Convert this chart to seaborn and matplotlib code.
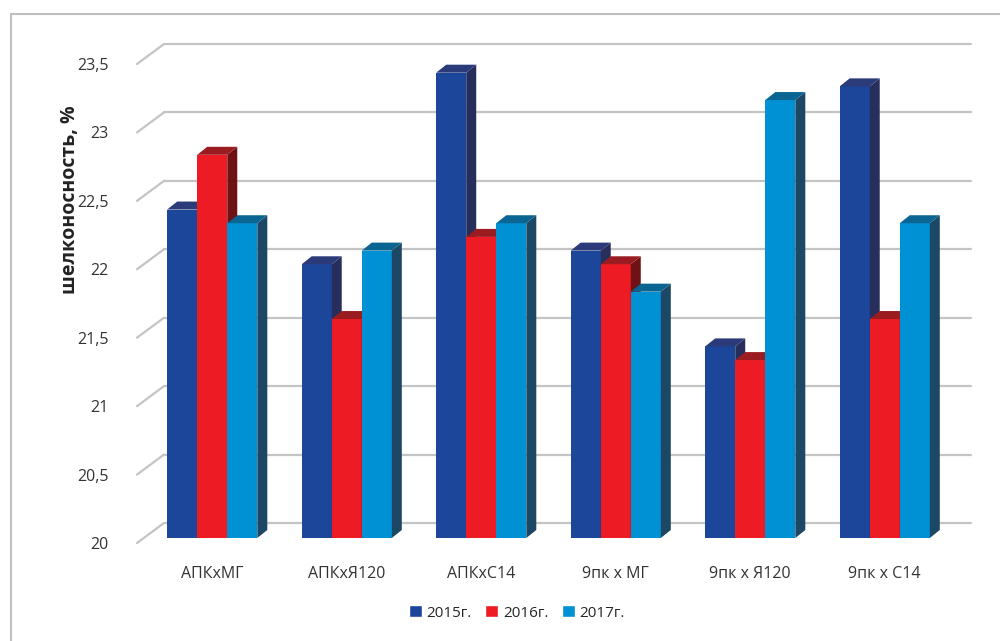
import matplotlib
matplotlib.use("Agg")
import matplotlib.pyplot as plt
from matplotlib.patches import Polygon, Rectangle
from matplotlib.transforms import ScaledTranslation
import pandas as pd
import seaborn as sns

categories = ["АПКхМГ", "АПКхЯ120", "АПКхС14", "9пк х МГ", "9пк х Я120", "9пк х С14"]
years = ["2015г.", "2016г.", "2017г."]
values_2015 = [22.4, 22.0, 23.4, 22.1, 21.4, 23.3]
values_2016 = [22.8, 21.6, 22.2, 22.0, 21.3, 21.6]
values_2017 = [22.3, 22.1, 22.3, 21.8, 23.2, 22.3]
y_ticks = [20, 20.5, 21, 21.5, 22, 22.5, 23, 23.5]
y_label = "шелконосность, %"

front_colors = ["#1C469A", "#ED1C24", "#0091D5"]
side_colors = ["#272E5C", "#6E1215", "#1C4866"]
top_colors = ["#2B3A78", "#9A1C20", "#0A6592"]

df = pd.DataFrame({
    "Категория": categories * 3,
    "Год": [years[0]] * 6 + [years[1]] * 6 + [years[2]] * 6,
    "Значение": values_2015 + values_2016 + values_2017,
})

sns.set_style("white")
plt.rcParams["font.family"] = ["Open Sans", "DejaVu Sans"]

W, H = 1000, 641
fig = plt.figure(figsize=(10, 6.41), dpi=100)
ax_l, ax_r, ax_b, ax_t = 145, 952, 538, 59
ax = fig.add_axes([ax_l / W, (H - ax_b) / H, (ax_r - ax_l) / W, (ax_b - ax_t) / H])

sns.barplot(data=df, x="Категория", y="Значение", hue="Год",
            palette=dict(zip(years, front_colors)), width=0.67,
            saturation=1, ax=ax)

y_min, y_max = 20, 23.5
ax.set_ylim(y_min, y_max)
ax.set_xlim(-0.5, 5.5)

# data units per pixel
sx = 6.0 / (ax_r - ax_l)
sy = (y_max - y_min) / (ax_b - ax_t)

# gridlines: slanted left edge + back wall line
grid_c = "#C4C4C4"
fdx, fdy = -8, -5      # front edge offset (px, up positive)
bdx, bdy = 19, 15      # back wall offset
for v in y_ticks:
    ax.plot([-0.5 + fdx * sx, -0.5 + bdx * sx], [v + fdy * sy, v + bdy * sy],
            color=grid_c, lw=1.6, zorder=0.5, clip_on=False)
    ax.plot([-0.5 + bdx * sx, 5.5 + bdx * sx], [v + bdy * sy, v + bdy * sy],
            color=grid_c, lw=1.6, zorder=0.5, clip_on=False)

# 3D faces for every bar
ddx, ddy = 10 * sx, 8 * sy
for k, cont in enumerate(ax.containers):
    for bar in cont:
        x = bar.get_x()
        w = bar.get_width()
        y1 = bar.get_y() + bar.get_height()
        y0 = max(bar.get_y(), y_min)
        bar.set_zorder(2 + k)
        bar.set_edgecolor("none")
        side = Polygon([(x + w, y0), (x + w + ddx, y0 + ddy), (x + w + ddx, y1 + ddy), (x + w, y1)],
                       closed=True, fc=side_colors[k], ec="none", zorder=2.5 + k, clip_on=False)
        top = Polygon([(x, y1), (x + ddx, y1 + ddy), (x + w + ddx, y1 + ddy), (x + w, y1)],
                      closed=True, fc=top_colors[k], ec="none", zorder=2.5 + k, clip_on=False)
        ax.add_patch(side)
        ax.add_patch(top)

sns.despine(ax=ax, left=True, bottom=True)
ax.set_yticks(y_ticks)
ax.set_yticklabels([f"{v:g}".replace(".", ",") for v in y_ticks])
ax.tick_params(axis="y", length=0, pad=26, labelsize=11.5, labelcolor="#333333")
ax.tick_params(axis="x", length=0, pad=20, labelsize=11.5, labelcolor="#333333")
for lab in ax.get_yticklabels():
    lab.set_transform(lab.get_transform() + ScaledTranslation(0, -0.05, fig.dpi_scale_trans))
ax.set_xlabel("")
ax.set_ylabel(y_label, fontsize=14, fontweight="bold", color="#222222")
ax.yaxis.set_label_coords((80 - ax_l) / (ax_r - ax_l), (ax_b - 200) / (ax_b - ax_t))

sns.move_legend(ax, "center", bbox_to_anchor=((517 - ax_l) / (ax_r - ax_l), (ax_b - 613) / (ax_b - ax_t)),
                ncol=3, frameon=False, title=None, fontsize=11, handlelength=0.85,
                handleheight=0.85, handletextpad=0.3, columnspacing=0.9)

fig.add_artist(Rectangle((11 / W, -0.1), 1.1, (H - 14) / H + 0.1, transform=fig.transFigure,
                         fill=False, ec="#BFBFBF", lw=1.5))

fig.savefig("out.png", dpi=100)
